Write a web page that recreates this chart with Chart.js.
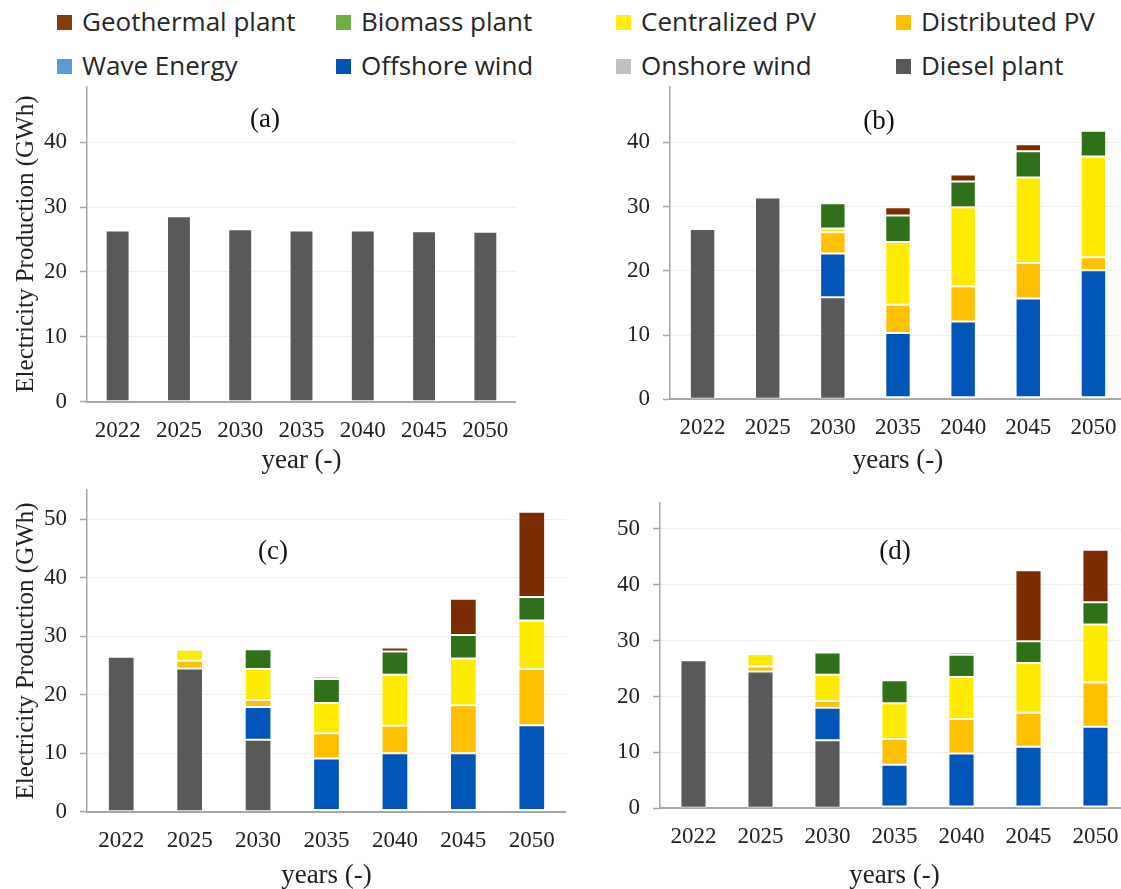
<!DOCTYPE html>
<html>
<head>
<meta charset="utf-8">
<script src="https://cdn.jsdelivr.net/npm/chart.js@4.4.1/dist/chart.umd.min.js"></script>
<style>
  html, body { margin: 0; padding: 0; background: #fff; width: 1121px; height: 889px; overflow: hidden; position: relative; }
  canvas { position: absolute; }
  .item { position: absolute; font-family: "Open Sans", sans-serif; font-size: 26px; color: #262626; white-space: nowrap; line-height: 32px; transform: translateY(-50%); }
  .item span { display: inline-block; width: 15px; height: 15px; margin-right: 10px; vertical-align: 1px; }
</style>
</head>
<body>
<script>
const years = ["2022", "2025", "2030", "2035", "2040", "2045", "2050"];
const seriesNames = ["Geothermal plant", "Biomass plant", "Centralized PV", "Distributed PV",
                     "Wave Energy", "Offshore wind", "Onshore wind", "Diesel plant"];
const legendColors = ["#843C0C", "#70AD47", "#FFF000", "#FFC000", "#5B9BD5", "#0054B4", "#BFBFBF", "#595959"];
const barColors    = ["#7B2C00", "#2E7119", "#FFEB00", "#FFC000", "#5B9BD5", "#0055B8", "#C8C8C8", "#595959"];
const yTicksAB = [0, 10, 20, 30, 40];
const yTicksCD = [0, 10, 20, 30, 40, 50];

// (a)
const dieselA      = [26.4, 28.6, 26.6, 26.4, 26.4, 26.3, 26.2];

// (b)
const dieselB      = [26.5, 31.4, 15.9, 0, 0, 0, 0];
const onshoreB     = [0, 0, 0, 0.3, 0.3, 0.3, 0.3];
const offshoreB    = [0, 0, 6.8, 10.0, 11.8, 15.4, 19.8];
const distPvB      = [0, 0, 3.3, 4.4, 5.5, 5.5, 2.0];
const centPvB      = [0, 0, 0.6, 9.8, 12.3, 13.3, 15.7];
const biomassB     = [0, 0, 3.9, 4.1, 4.0, 4.1, 4.0];
const geothermalB  = [0, 0, 0, 1.3, 1.1, 1.1, 0];

// (c)
const dieselC      = [26.5, 24.5, 12.3, 0, 0, 0, 0];
const onshoreC     = [0, 0, 0, 0.3, 0.3, 0.3, 0.3];
const offshoreC    = [0, 0, 5.6, 8.8, 9.7, 9.7, 14.5];
const distPvC      = [0, 1.3, 1.2, 4.3, 4.7, 8.2, 9.6];
const centPvC      = [0, 1.9, 5.3, 5.2, 8.7, 8.0, 8.3];
const biomassC     = [0, 0, 3.4, 4.1, 4.0, 4.0, 4.0];
const geothermalC  = [0, 0, 0, 0.4, 0.7, 6.2, 14.6];

// (d)
const dieselD      = [26.5, 24.5, 12.2, 0, 0, 0, 0];
const onshoreD     = [0, 0, 0, 0.3, 0.3, 0.3, 0.3];
const offshoreD    = [0, 0, 5.8, 7.5, 9.5, 10.7, 14.3];
const distPvD      = [0, 0.9, 1.2, 4.6, 6.2, 6.1, 7.9];
const centPvD      = [0, 2.2, 4.7, 6.4, 7.5, 8.9, 10.4];
const biomassD     = [0, 0, 4.0, 4.1, 4.0, 3.9, 4.0];
const geothermalD  = [0, 0, 0, 0.35, 0.4, 12.7, 9.4];

const zeros = years.map(() => 0);

// legend (html, 4 x 2 grid)
const legendSpots = [[57, 21], [336, 21], [616, 21], [896, 21], [57, 65], [336, 65], [616, 65], [896, 65]];
seriesNames.forEach((name, i) => {
  const d = document.createElement("div");
  d.className = "item";
  d.style.left = legendSpots[i][0] + "px";
  d.style.top = legendSpots[i][1] + "px";
  d.innerHTML = '<span style="background:' + legendColors[i] + '"></span>' + name;
  document.body.appendChild(d);
});

const serif = "'Liberation Serif', 'Times New Roman', serif";

const panelLabel = {
  id: "panelLabel",
  afterDraw(chart, args, opts) {
    const ctx = chart.ctx;
    ctx.save();
    ctx.font = "27px " + serif;
    ctx.fillStyle = "#111";
    ctx.textAlign = "center";
    ctx.textBaseline = "middle";
    ctx.fillText(opts.text, opts.x, opts.y);
    ctx.restore();
  }
};

function makePanel(p) {
  const cv = document.createElement("canvas");
  cv.width = p.w; cv.height = p.h;
  cv.style.left = p.x + "px"; cv.style.top = p.y + "px";
  cv.style.width = p.w + "px"; cv.style.height = p.h + "px";
  document.body.appendChild(cv);

  // bottom to top stacking order
  const stack = [
    [6, p.onshore], [4, zeros], [7, p.diesel], [5, p.offshore],
    [3, p.distPv], [2, p.centPv], [1, p.biomass], [0, p.geothermal]
  ];

  new Chart(cv, {
    type: "bar",
    data: {
      labels: years,
      datasets: stack.map(([k, vals]) => ({
        label: seriesNames[k],
        data: vals,
        backgroundColor: barColors[k],
        borderColor: "rgba(255,255,255,0.5)",
        borderWidth: ctx => (ctx.raw ? 1 : 0),
        borderSkipped: false,
        categoryPercentage: 1,
        barPercentage: 0.39
      }))
    },
    options: {
      responsive: false,
      animation: false,
      devicePixelRatio: 1,
      layout: { padding: { top: p.plotTop - p.y, left: p.padLeft, right: 0, bottom: 0 } },
      plugins: {
        legend: { display: false },
        tooltip: { enabled: false },
        panelLabel: { text: p.label, x: p.labelX - p.x, y: p.labelY - p.y }
      },
      scales: {
        x: {
          stacked: true,
          grid: { display: false, drawTicks: false },
          border: { color: "#a6a6a6", width: 2 },
          ticks: { font: { family: serif, size: 23 }, color: "#222", padding: 15, maxRotation: 0 },
          title: { display: true, text: p.xTitle, font: { family: serif, size: 27 }, color: "#222", padding: { top: 0, bottom: 4 } },
          afterFit: s => {
            s.height = p.y + p.h - p.zeroY;
            s.paddingLeft = 0; s.paddingRight = 0;
          }
        },
        y: {
          stacked: true,
          min: 0,
          max: p.yMax,
          afterBuildTicks: s => { s.ticks = p.yTicks.map(v => ({ value: v })); },
          ticks: { font: { family: serif, size: 23 }, color: "#222", padding: 13 },
          grid: { color: "#eeeeee", drawTicks: true, tickLength: 7, tickColor: "#a6a6a6", tickWidth: 1.5, lineWidth: 1 },
          border: { color: "#a6a6a6", width: 1.5 },
          title: { display: !!p.yTitle, text: p.yTitle, font: { family: serif, size: 25 }, color: "#222", padding: { top: 4, bottom: 0 } },
          afterFit: s => {
            s.width = p.plotLeft - p.x - p.padLeft;
            s.paddingTop = 0; s.paddingBottom = 0;
          }
        }
      }
    },
    plugins: [panelLabel]
  });
}

const yTitle = "Electricity Production (GWh)";

makePanel({
  x: 0, y: 80, w: 516, h: 401, padLeft: 7, plotLeft: 87, plotTop: 86.5, zeroY: 401.7, yMax: 48.6, yTicks: yTicksAB,
  yTitle: yTitle, xTitle: "year (-)", label: "(a)", labelX: 265, labelY: 120,
  diesel: dieselA, onshore: zeros, offshore: zeros, distPv: zeros, centPv: zeros, biomass: zeros, geothermal: zeros
});
makePanel({
  x: 600, y: 80, w: 526, h: 401, padLeft: 0, plotLeft: 670, plotTop: 86.7, zeroY: 399.3, yMax: 48.65, yTicks: yTicksAB,
  yTitle: "", xTitle: "years (-)", label: "(b)", labelX: 879, labelY: 122,
  diesel: dieselB, onshore: onshoreB, offshore: offshoreB, distPv: distPvB, centPv: centPvB, biomass: biomassB, geothermal: geothermalB
});
makePanel({
  x: 0, y: 480, w: 566, h: 416, padLeft: 7, plotLeft: 87, plotTop: 490.1, zeroY: 811.7, yMax: 55, yTicks: yTicksCD,
  yTitle: yTitle, xTitle: "years (-)", label: "(c)", labelX: 273, labelY: 552,
  diesel: dieselC, onshore: onshoreC, offshore: offshoreC, distPv: distPvC, centPv: centPvC, biomass: biomassC, geothermal: geothermalC
});
makePanel({
  x: 600, y: 480, w: 529, h: 416, padLeft: 0, plotLeft: 660, plotTop: 502.7, zeroY: 808.3, yMax: 54.7, yTicks: yTicksCD,
  yTitle: "", xTitle: "years (-)", label: "(d)", labelX: 895, labelY: 552,
  diesel: dieselD, onshore: onshoreD, offshore: offshoreD, distPv: distPvD, centPv: centPvD, biomass: biomassD, geothermal: geothermalD
});
</script>
</body>
</html>
